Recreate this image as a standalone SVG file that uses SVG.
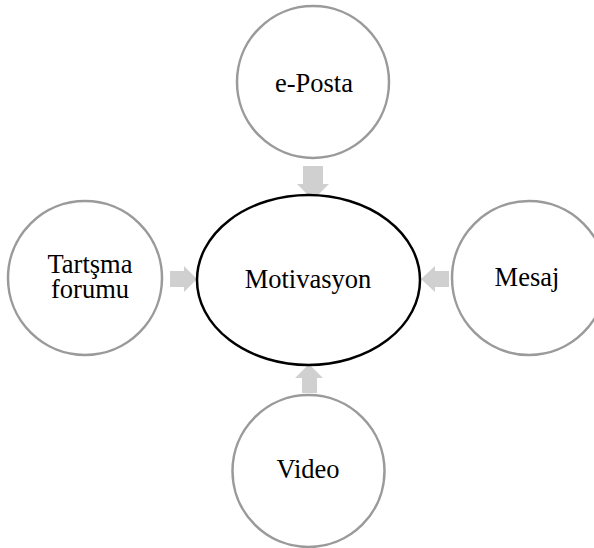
<svg xmlns="http://www.w3.org/2000/svg" width="594" height="548" viewBox="0 0 594 548">
<style>
.sat{fill:#fff;stroke:#9a9a9a;stroke-width:2.5}
.hub{fill:#fff;stroke:#000;stroke-width:2.5}
.arr{fill:#d0d0d0;stroke:none}
text{font-family:"Liberation Serif","Times New Roman",serif;font-size:26.5px;fill:#000;text-anchor:middle}
</style>
<rect width="594" height="548" fill="#fff"/>
<g id="connectors">
<polygon class="arr" points="303,166 323,166 323,184 329,184 313,200 297,184 303,184"/>
<polygon class="arr" points="170,271 184,271 184,266 197,279 184,292 184,287 170,287"/>
<polygon class="arr" points="449,271 435,271 435,266 421,279 435,292 435,287 449,287"/>
<polygon class="arr" points="302,393 317,393 317,378 323,378 309,364 295,378 302,378"/>
</g>
<g id="motivasyon">
<ellipse class="hub" cx="308.5" cy="280" rx="111.5" ry="85"/>
<text x="308" y="288">Motivasyon</text>
</g>
<g id="eposta">
<circle class="sat" cx="313" cy="82" r="76"/>
<text x="314" y="92">e-Posta</text>
</g>
<g id="tartisma">
<circle class="sat" cx="85" cy="278" r="77"/>
<text x="90" y="273">Tartşma<tspan x="90" dy="25">forumu</tspan></text>
</g>
<g id="mesaj">
<circle class="sat" cx="529" cy="278" r="77"/>
<text x="527" y="286">Mesaj</text>
</g>
<g id="video">
<circle class="sat" cx="308.5" cy="471" r="76"/>
<text x="308" y="478">Video</text>
</g>
</svg>
